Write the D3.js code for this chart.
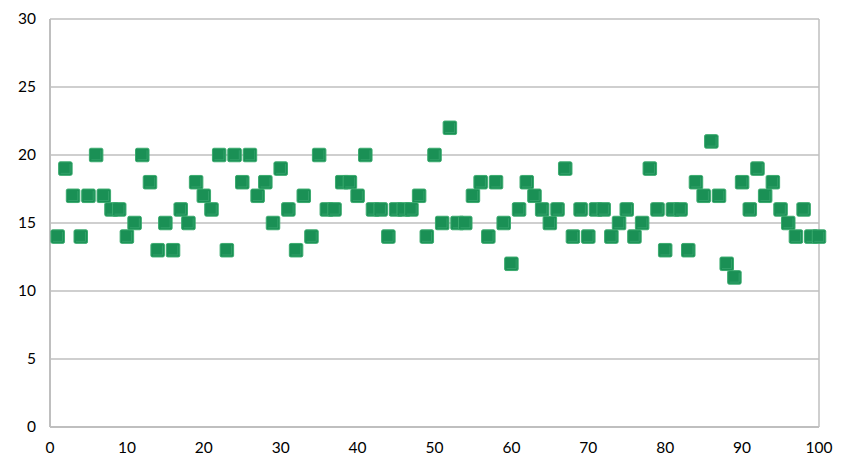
<!DOCTYPE html>
<html><head><meta charset="utf-8">
<script src="https://cdn.jsdelivr.net/npm/d3@7"></script>
<style>body{margin:0;background:#fff}text{font-family:Lato,"Open Sans",sans-serif;font-size:15.5px;fill:#000}</style>
</head><body><svg id="c" width="846" height="462"></svg>
<script>
const xValues = d3.range(1, 101);
const yValues = [14,19,17,14,17,20,17,16,16,14,15,20,18,13,15,13,16,15,18,17,
16,20,13,20,18,20,17,18,15,19,16,13,17,14,20,16,16,18,18,17,
20,16,16,14,16,16,16,17,14,20,15,22,15,15,17,18,14,18,15,12,
16,18,17,16,15,16,19,14,16,14,16,16,14,15,16,14,15,19,16,13,
16,16,13,18,17,21,17,12,11,18,16,19,17,18,16,15,14,16,14,14];
const xTicks = [0,10,20,30,40,50,60,70,80,90,100];
const yTicks = [0,5,10,15,20,25,30];

const svg = d3.select("#c");
const L = 50, R = 819, T = 19, B = 427;
const x = d3.scaleLinear().domain([0,100]).range([L,R]);
const y = d3.scaleLinear().domain([0,30]).range([B,T]);

const grid = "#bfbfbf";
svg.append("g").selectAll("line").data(yTicks).join("line")
  .attr("x1", L).attr("x2", R).attr("y1", d=>y(d)).attr("y2", d=>y(d))
  .attr("stroke", grid).attr("stroke-width", 1.5);
svg.append("line").attr("x1",L).attr("x2",L).attr("y1",T).attr("y2",B).attr("stroke",grid).attr("stroke-width",2);
svg.append("line").attr("x1",R).attr("x2",R).attr("y1",T).attr("y2",B).attr("stroke",grid).attr("stroke-width",1.5);
svg.append("line").attr("x1",L).attr("x2",R).attr("y1",B).attr("y2",B).attr("stroke",grid).attr("stroke-width",2);

svg.append("g").selectAll("text").data(yTicks).join("text")
  .attr("x", 36).attr("y", d=>y(d)+5).attr("text-anchor","end").text(d=>d);
svg.append("g").selectAll("text").data(xTicks).join("text")
  .attr("x", d=>x(d)).attr("y", 453).attr("text-anchor","middle").text(d=>d);

const s = 13.5;
const pts = svg.append("g").selectAll("g").data(xValues.map((v,i)=>[v,yValues[i]])).join("g")
  .attr("transform", d=>`translate(${x(d[0])},${y(d[1])})`);
pts.append("rect").attr("x",-s/2).attr("y",-s/2).attr("width",s).attr("height",s).attr("rx",1.5)
  .attr("fill","#1a9055").attr("stroke","#3aaa6e").attr("stroke-width",1);
pts.append("path").attr("d",`M${s/2-2},${-s/2+2}V${s/2-2}H${-s/2+2}`)
  .attr("fill","none").attr("stroke","#52b884").attr("stroke-width",0.7).attr("opacity",0.6);
</script></body></html>
